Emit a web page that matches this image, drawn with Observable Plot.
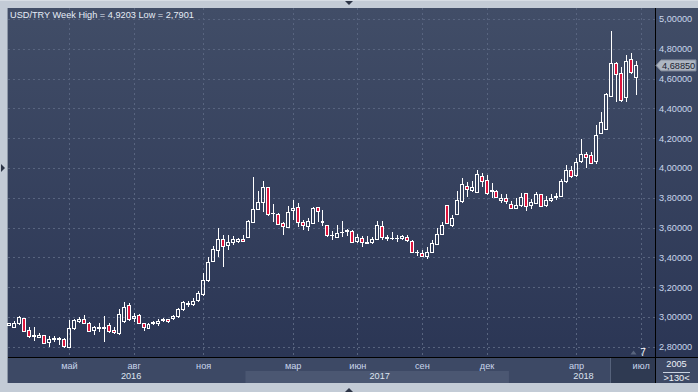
<!DOCTYPE html>
<html><head><meta charset="utf-8">
<script src="https://cdn.jsdelivr.net/npm/d3@7"></script>
<script src="https://cdn.jsdelivr.net/npm/@observablehq/plot@0.6"></script>
<style>
html,body{margin:0;padding:0;background:#c3cbd6;}
#wrap{position:relative;width:698px;height:392px;overflow:hidden;font-family:"Liberation Sans",Arial,sans-serif;}
#wrap > svg, #wrap > div{position:absolute;left:0;top:0;}
</style></head><body>
<div id="wrap"></div>
<script>
// ---- data (weekly USD/TRY candles) ----
const openP = [2.945,2.931,2.953,2.991,2.906,2.868,2.864,2.875,2.828,2.846,
2.850,2.852,2.796,2.922,2.969,2.980,2.958,2.908,2.922,2.922,
2.946,2.906,2.886,2.969,3.074,2.989,3.011,2.958,2.922,2.953,
2.953,2.975,2.984,2.991,3.002,3.051,3.083,3.085,3.110,3.148,
3.248,3.371,3.445,3.517,3.483,3.499,3.510,3.523,3.532,3.633,
3.723,3.770,3.870,3.693,3.689,3.629,3.600,3.716,3.736,3.633,
3.606,3.626,3.736,3.636,3.611,3.546,3.535,3.566,3.575,3.577,
3.506,3.528,3.494,3.503,3.517,3.608,3.526,3.526,3.525,3.526,
3.535,3.510,3.432,3.427,3.405,3.436,3.485,3.557,3.745,3.613,
3.691,3.774,3.879,3.846,3.834,3.942,3.913,3.839,3.841,3.785,
3.796,3.758,3.729,3.745,3.826,3.745,3.763,3.819,3.745,3.781,
3.801,3.808,3.908,3.980,3.949,4.043,4.092,4.081,4.043,4.233,
4.260,4.483,4.698,4.635,4.472,4.729,4.609];
const highP = [2.962,2.975,3.007,2.993,2.931,2.931,2.895,2.879,2.872,2.872,
2.868,2.857,2.980,2.984,3.002,3.013,2.969,2.940,2.958,3.007,
2.958,2.935,3.051,3.098,3.092,3.025,3.018,2.962,2.958,2.975,
2.984,2.993,2.989,3.013,3.058,3.110,3.110,3.125,3.177,3.297,
3.405,3.477,3.600,3.550,3.550,3.544,3.530,3.550,3.651,3.940,
3.846,3.915,3.875,3.758,3.696,3.640,3.747,3.785,3.763,3.651,
3.662,3.740,3.740,3.718,3.617,3.579,3.617,3.644,3.591,3.584,
3.557,3.544,3.544,3.539,3.644,3.644,3.550,3.573,3.550,3.550,
3.550,3.517,3.450,3.450,3.472,3.517,3.600,3.638,3.750,3.685,
3.846,3.931,3.908,3.915,3.987,3.969,3.953,3.897,3.852,3.823,
3.823,3.781,3.796,3.830,3.834,3.790,3.839,3.826,3.812,3.826,
3.830,3.924,4.020,4.013,4.065,4.195,4.110,4.110,4.289,4.378,
4.501,4.9203,4.709,4.676,4.758,4.770,4.718];
const lowP = [2.938,2.925,2.946,2.897,2.857,2.841,2.857,2.819,2.801,2.834,
2.812,2.795,2.7901,2.913,2.958,2.953,2.897,2.879,2.902,2.834,
2.890,2.886,2.879,2.962,2.975,2.969,2.953,2.908,2.917,2.944,
2.940,2.964,2.958,2.980,2.995,3.042,3.069,3.074,3.101,3.143,
3.237,3.367,3.405,3.338,3.450,3.483,3.497,3.506,3.528,3.629,
3.718,3.707,3.680,3.635,3.617,3.550,3.595,3.651,3.602,3.584,
3.579,3.622,3.640,3.613,3.539,3.517,3.528,3.535,3.546,3.499,
3.494,3.472,3.488,3.488,3.515,3.517,3.510,3.517,3.506,3.517,
3.506,3.427,3.412,3.400,3.387,3.432,3.481,3.550,3.622,3.606,
3.685,3.763,3.808,3.837,3.830,3.875,3.819,3.796,3.796,3.763,
3.756,3.723,3.725,3.736,3.714,3.723,3.756,3.736,3.736,3.774,
3.785,3.803,3.897,3.931,3.942,4.031,4.002,4.025,4.025,4.226,
4.255,4.479,4.445,4.445,4.445,4.631,4.490];
const closeP = [2.955,2.953,2.998,2.902,2.872,2.879,2.879,2.823,2.852,2.859,
2.857,2.801,2.926,2.975,2.980,2.958,2.902,2.931,2.931,2.931,
2.902,2.895,3.020,3.065,2.984,3.002,2.958,2.931,2.951,2.962,
2.973,2.984,2.971,3.002,3.051,3.096,3.092,3.107,3.159,3.248,
3.367,3.450,3.523,3.472,3.501,3.517,3.519,3.506,3.640,3.723,
3.770,3.868,3.691,3.696,3.624,3.606,3.702,3.729,3.635,3.611,
3.638,3.729,3.707,3.640,3.550,3.548,3.561,3.570,3.579,3.501,
3.535,3.501,3.503,3.517,3.615,3.535,3.533,3.530,3.528,3.537,
3.512,3.434,3.436,3.407,3.436,3.490,3.557,3.611,3.629,3.662,
3.785,3.886,3.857,3.870,3.953,3.908,3.826,3.852,3.803,3.792,
3.774,3.729,3.745,3.803,3.740,3.767,3.819,3.740,3.785,3.797,
3.808,3.910,3.980,3.944,4.038,4.092,4.069,4.031,4.221,4.307,
4.490,4.698,4.629,4.452,4.718,4.640,4.6885];

// week bars counted from 1 January of each year: [year, first week, last week]
const yearSpans = [[2016, 6, 53], [2017, 1, 53], [2018, 1, 26]];
const futureSpan = [2018, 27, 29];
const monthTickWeeks = ["2016-04-29","2016-07-29","2016-11-04","2017-03-05","2017-06-04","2017-09-03","2017-12-03","2018-04-02","2018-07-02"];
const monthTickLabels = ["май","авг","ноя","мар","июн","сен","дек","апр","июл"];
const yearLabels = ["2016","2017","2018"];
const yearLabelWeeks = ["2016-07-22","2017-07-02","2018-04-09"];
const priceTicks = [2.8,3.0,3.2,3.4,3.6,3.8,4.0,4.2,4.4,4.6,4.8,5.0];

// ---- build ----
const weekStart = (y, w) => new Date(Date.UTC(y, 0, 1 + 7 * (w - 1))).toISOString().slice(0, 10);
const weeks = [];
for (const [y, a, b] of yearSpans) for (let w = a; w <= b; w++) weeks.push(weekStart(y, w));
const allWeeks = weeks.slice();
for (let w = futureSpan[1]; w <= futureSpan[2]; w++) allWeeks.push(weekStart(futureSpan[0], w));
const weekIndex = new Map(allWeeks.map((w, i) => [w, i]));

const candles = closeP.map((c, i) => ({i, week: weeks[i], open: openP[i], high: highP[i], low: lowP[i], close: c}));
const upC = candles.filter(d => d.close >= d.open);
const dnC = candles.filter(d => d.close < d.open);
const bodyTop = d => Math.max(d.open, d.close), bodyBot = d => Math.min(d.open, d.close);
const tickIdx = monthTickWeeks.map(w => weekIndex.get(w));
const comma = (f) => v => d3.format(f)(v).replace(".", ",");
const fmtPrice = comma(".5f");

const grid = "#58647f";
const bw = 0.3;
const plot = Plot.plot({
  width: 698, height: 392,
  marginTop: 8, marginRight: 43, marginBottom: 35, marginLeft: 8,
  style: {background: "transparent", fontFamily: "'Liberation Sans', Arial, sans-serif", fontSize: "9.2px", color: "#c9d6ec", overflow: "visible"},
  x: {type: "linear", domain: [-0.2615, allWeeks.length - 0.115], ticks: tickIdx,
      tickFormat: i => monthTickLabels[tickIdx.indexOf(i)], tickSize: 0, tickPadding: 4.5, label: null},
  y: {domain: [2.7315, 5.0738], ticks: priceTicks, tickFormat: fmtPrice, axis: "right",
      tickSize: 0, tickPadding: 3.5, label: null},
  marks: [
    Plot.ruleY(priceTicks, {stroke: grid, strokeDasharray: "2,3", shapeRendering: "crispEdges"}),
    Plot.ruleX(tickIdx, {stroke: grid, strokeDasharray: "2,3", shapeRendering: "crispEdges"}),
    Plot.ruleX(candles, {x: "i", y1: "high", y2: bodyTop, stroke: "#ffffff", shapeRendering: "crispEdges"}),
    Plot.ruleX(candles, {x: "i", y1: bodyBot, y2: "low", stroke: "#ffffff", shapeRendering: "crispEdges"}),
    Plot.rect(upC, {x1: d => d.i - bw, x2: d => d.i + bw, y1: "open", y2: "close", fill: "none", stroke: "#ffffff", shapeRendering: "crispEdges"}),
    Plot.rect(dnC, {x1: d => d.i - bw, x2: d => d.i + bw, y1: "open", y2: "close", fill: "crimson", stroke: "#ffffff", shapeRendering: "crispEdges"}),
    Plot.text(yearLabels, {x: (d, k) => weekIndex.get(yearLabelWeeks[k]), text: d => d, frameAnchor: "bottom", dy: 21.5, dx: 2, fill: "#dde4f0"})
  ]
});

// scale helpers from the plot
const sx = plot.scale("x"), sy = plot.scale("y");
const lin = s => v => s.range[0] + (v - s.domain[0]) / (s.domain[1] - s.domain[0]) * (s.range[1] - s.range[0]);
const X = lin(sx), Y = lin(sy);

const wrap = document.getElementById("wrap");

// background chrome
const bg = d3.select(wrap).append("svg").attr("width", 698).attr("height", 392);
const defs = bg.append("defs");
const g1 = defs.append("linearGradient").attr("id", "plotbg").attr("x1", 0).attr("y1", 0).attr("x2", 0).attr("y2", 1);
g1.append("stop").attr("offset", 0).attr("stop-color", "#414d67");
g1.append("stop").attr("offset", 1).attr("stop-color", "#2b3655");
bg.append("rect").attr("width", 698).attr("height", 392).attr("fill", "#c3cbd6");
bg.append("rect").attr("x", 0).attr("y", 0).attr("width", 698).attr("height", 1).attr("fill", "#d6dce4");
bg.append("rect").attr("x", 8).attr("y", 8).attr("width", 690).attr("height", 349).attr("fill", "url(#plotbg)");
bg.append("rect").attr("x", 8).attr("y", 357).attr("width", 690).attr("height", 26).attr("fill", "#3d4965");
// 2017 year cell
const yb0 = X(weekIndex.get("2017-01-01") - 0.5), yb1 = X(weekIndex.get("2018-01-01") - 0.5);
bg.append("rect").attr("x", yb0).attr("y", 371).attr("width", yb1 - yb0).attr("height", 12).attr("fill", "#4b5772");
// future block
bg.append("rect").attr("x", 611).attr("y", 358).attr("width", 44).attr("height", 25).attr("fill", "#2f3a52");
bg.append("line").attr("x1", 610.5).attr("x2", 610.5).attr("y1", 358).attr("y2", 383).attr("stroke", "#56627b");
// frame lines
bg.append("line").attr("x1", 655.5).attr("x2", 655.5).attr("y1", 8).attr("y2", 383).attr("stroke", "#000");
bg.append("line").attr("x1", 8).attr("x2", 698).attr("y1", 357.5).attr("y2", 357.5).attr("stroke", "#000");
bg.append("line").attr("x1", 7.5).attr("x2", 7.5).attr("y1", 8).attr("y2", 383).attr("stroke", "#8c96a6");
// border arrows
bg.append("polygon").attr("points", "345,1 353,1 349,5").attr("fill", "#2c3446");
bg.append("polygon").attr("points", "1,164 1,172 5,168").attr("fill", "#2c3446");
bg.append("polygon").attr("points", "345,392 353,392 349,388").attr("fill", "#2c3446");

// chart
wrap.appendChild(plot);

// foreground texts
const fg = d3.select(wrap).append("svg").attr("width", 698).attr("height", 392)
  .style("font-family", "'Liberation Sans', Arial, sans-serif").style("font-size", "9.2px");
const hiMax = d3.max(highP), loMin = d3.min(lowP);
fg.append("text").attr("x", 10).attr("y", 18.3).attr("fill", "#e6ecf6")
  .text(`USD/TRY Week High = ${comma(".4f")(hiMax)} Low = ${comma(".4f")(loMin)}`);
// last price tag
const last = closeP[closeP.length - 1];
const yc = Y(last);
fg.append("polygon").attr("points", `656,${yc} 661,${yc - 5.5} 696,${yc - 5.5} 696,${yc + 5.5} 661,${yc + 5.5}`)
  .attr("fill", "#aeb6c2").attr("stroke", "#7f8899");
fg.append("text").attr("x", 662).attr("y", yc + 3.3).attr("fill", "#1b2230").text(fmtPrice(last));
// bottom-right cell
fg.append("text").attr("x", 676.5).attr("y", 367).attr("text-anchor", "middle").attr("fill", "#eef2f8").text("2005");
fg.append("line").attr("x1", 663).attr("x2", 690).attr("y1", 372.5).attr("y2", 372.5).attr("stroke", "#c9d2e0");
fg.append("text").attr("x", 676.5).attr("y", 380.5).attr("text-anchor", "middle").attr("fill", "#eef2f8").text(">130<");
// marker
fg.append("polygon").attr("points", "630.5,354.5 633.5,350.5 636.5,354.5").attr("fill", "#59657e");
fg.append("text").attr("x", 643).attr("y", 356).attr("text-anchor", "middle").attr("fill", "#ffffff").style("font-size", "10px").text("7");
</script>
</body></html>
